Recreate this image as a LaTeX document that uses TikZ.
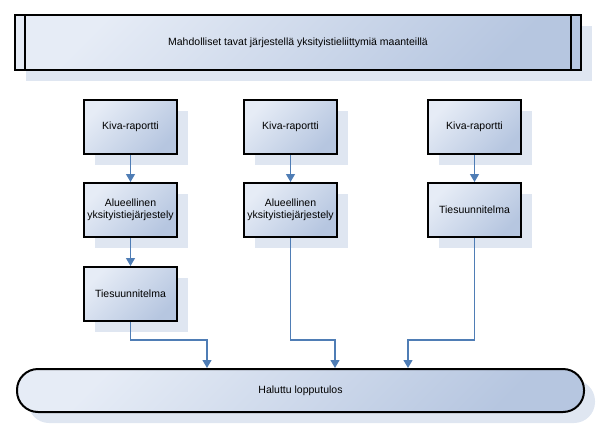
\documentclass[tikz,border=0pt]{standalone}
\usepackage{fontspec}
\setmainfont{Liberation Sans}
\usetikzlibrary{positioning, shadows, arrows.meta}

\definecolor{boxlight}{HTML}{E6ECF6}
\definecolor{boxdark}{HTML}{B6C6E0}
\definecolor{shadowblue}{HTML}{DFE6F1}
\definecolor{arrowblue}{HTML}{4F7DB5}

\begin{document}
\begin{tikzpicture}[x=1pt, y=-1pt,
    every node/.style={font=\fontsize{10.5}{12.5}\selectfont},
    plain/.style={draw=black, line width=2pt, top color=boxlight, bottom color=boxdark, shading angle=45, align=center, inner sep=1pt,
      drop shadow={shadow xshift=11pt, shadow yshift=-11pt, fill=shadowblue, opacity=1}},
    stepbox/.style={plain, minimum width=93pt, minimum height=54pt},
    flow/.style={draw=arrowblue, line width=1.2pt, -{Triangle[length=8pt, width=9pt]}}]
    \useasboundingbox (0,0) rectangle (612,433);

    % Title bar
    \node[plain, minimum width=566pt, minimum height=55pt] (otsikko) at (298,43) {Mahdolliset tavat järjestellä yksityistieliittymiä maanteillä};
    \draw[line width=2pt] ([xshift=11pt]otsikko.north west) -- ([xshift=11pt]otsikko.south west);
    \draw[line width=2pt] ([xshift=-11pt]otsikko.north east) -- ([xshift=-11pt]otsikko.south east);

    % Three columns
    \node[stepbox] (kiva1) at (130.5,127) {Kiva-raportti};
    \node[stepbox, right=65pt of kiva1] (kiva2) {Kiva-raportti};
    \node[stepbox, right=89pt of kiva2] (kiva3) {Kiva-raportti};
    \node[stepbox, below=27pt of kiva1] (alue1) {Alueellinen\\yksityistiejärjestely};
    \node[stepbox, below=27pt of kiva2] (alue2) {Alueellinen\\yksityistiejärjestely};
    \node[stepbox, below=27pt of kiva3] (ties3) {Tiesuunnitelma};
    \node[stepbox, below=28pt of alue1] (ties1) {Tiesuunnitelma};

    % Result
    \node[plain, rounded corners=21pt, minimum width=567pt, minimum height=43pt] (tulos) at (300.5,390.5) {Haluttu lopputulos};

    \foreach \a/\b in {kiva1/alue1, alue1/ties1, kiva2/alue2, kiva3/ties3}
      \draw[flow] (\a.south) -- (\b.north);

    \draw[flow] (ties1.south) -- ++(0,18) -| ([xshift=-93.5pt]tulos.north);
    \draw[flow] (alue2.south) -- ++(0,102) -| ([xshift=34.5pt]tulos.north);
    \draw[flow] (ties3.south) -- ++(0,102) -| ([xshift=107.5pt]tulos.north);
\end{tikzpicture}
\end{document}
